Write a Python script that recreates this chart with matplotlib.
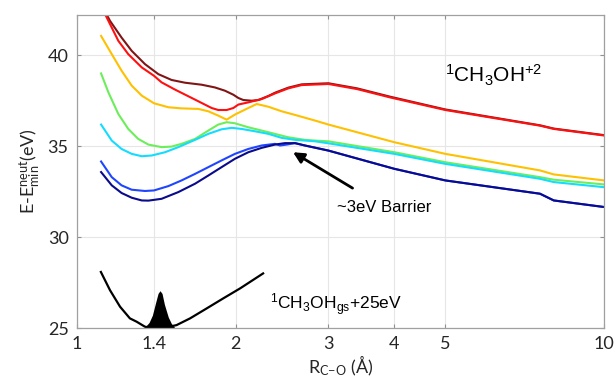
import numpy as np
import matplotlib
matplotlib.use("Agg")
import matplotlib.pyplot as plt

plt.rcParams['font.family'] = ['Lato', 'DejaVu Sans']
plt.rcParams['mathtext.default'] = 'regular'

# dication curves (R in Angstrom, E in eV)
r_darkred = [1.13, 1.155, 1.215, 1.27, 1.346, 1.427, 1.512, 1.603, 1.724, 1.827, 1.909, 1.98,
             2.024, 2.068, 2.145, 2.209, 2.307, 2.375, 2.518, 2.669, 3.0, 3.4, 3.93, 5.0, 7.56, 8.03, 10.0]
e_darkred = [42.4, 41.88, 40.96, 40.23, 39.50, 38.95, 38.63, 38.48, 38.37, 38.22, 38.04, 37.82,
             37.64, 37.53, 37.49, 37.53, 37.75, 37.93, 38.21, 38.39, 38.45, 38.17, 37.71, 37.01, 36.14, 35.96, 35.60]

r_red = [1.128, 1.147, 1.198, 1.251, 1.327, 1.40, 1.447, 1.535, 1.675, 1.801, 1.854, 1.923, 1.98,
         2.024, 2.114, 2.241, 2.375, 2.518, 2.669, 3.0, 3.4, 3.93, 5.0, 7.56, 8.03, 10.0]
e_red = [42.3, 41.88, 40.78, 40.05, 39.32, 38.86, 38.50, 38.10, 37.55, 37.09, 36.98, 36.98, 37.09,
         37.28, 37.40, 37.58, 37.89, 38.17, 38.35, 38.41, 38.13, 37.67, 36.98, 36.12, 35.94, 35.58]

r_yellow = [1.111, 1.164, 1.215, 1.27, 1.327, 1.40, 1.491, 1.579, 1.699, 1.775, 1.854, 1.923,
            1.994, 2.114, 2.193, 2.307, 2.445, 2.592, 2.829, 3.0, 4.0, 5.0, 7.56, 8.03, 10.0]
e_yellow = [41.05, 40.05, 39.14, 38.32, 37.77, 37.35, 37.13, 37.07, 37.04, 36.91, 36.67, 36.45,
            36.73, 37.09, 37.31, 37.16, 36.91, 36.71, 36.40, 36.18, 35.21, 34.57, 33.66, 33.44, 33.11]

r_green = [1.111, 1.147, 1.198, 1.251, 1.307, 1.366, 1.447, 1.512, 1.579, 1.675, 1.775, 1.854,
           1.923, 1.994, 2.114, 2.307, 2.518, 2.707, 2.829, 3.0, 4.0, 5.0, 7.56, 8.03, 10.0]
e_green = [38.99, 37.95, 36.76, 35.94, 35.39, 35.08, 34.94, 34.97, 35.12, 35.39, 35.85, 36.18,
           36.31, 36.25, 36.03, 35.76, 35.48, 35.34, 35.30, 35.26, 34.66, 34.11, 33.29, 33.15, 32.89]

r_cyan = [1.111, 1.164, 1.215, 1.27, 1.327, 1.386, 1.469, 1.557, 1.675, 1.775, 1.881, 1.966,
          2.053, 2.177, 2.307, 2.445, 2.592, 2.829, 3.0, 4.0, 5.0, 7.56, 8.03, 10.0]
e_cyan = [36.18, 35.30, 34.84, 34.57, 34.44, 34.48, 34.66, 34.94, 35.34, 35.67, 35.92, 36.00,
          35.94, 35.81, 35.67, 35.45, 35.34, 35.26, 35.15, 34.57, 34.02, 33.20, 33.02, 32.74]

r_blue = [1.111, 1.164, 1.215, 1.27, 1.346, 1.40, 1.491, 1.579, 1.675, 1.775, 1.881, 1.994,
          2.114, 2.241, 2.375, 2.428, 2.50, 2.592, 2.707, 3.0, 4.0, 5.0, 7.56, 8.03, 10.0]
e_blue = [34.15, 33.29, 32.84, 32.60, 32.53, 32.56, 32.80, 33.11, 33.47, 33.84, 34.21, 34.57,
          34.84, 35.03, 35.12, 35.03, 35.08, 35.16, 35.03, 34.75, 33.75, 33.11, 32.38, 32.01, 31.65]

r_navy = [1.111, 1.164, 1.215, 1.27, 1.327, 1.366, 1.447, 1.557, 1.675, 1.775, 1.881, 1.994,
          2.114, 2.241, 2.375, 2.481, 2.592, 2.707, 3.0, 4.0, 5.0, 7.56, 8.03, 10.0]
e_navy = [33.57, 32.84, 32.42, 32.16, 32.01, 32.00, 32.10, 32.47, 32.93, 33.38, 33.84, 34.30,
          34.66, 34.90, 35.08, 35.16, 35.16, 35.03, 34.75, 33.75, 33.11, 32.38, 32.01, 31.65]

# neutral ground state (+25 eV) and wave packet
r_gs = [1.11, 1.155, 1.207, 1.26, 1.297, 1.346, 1.396, 1.479, 1.545, 1.639, 1.763, 1.895, 2.04, 2.255]
e_gs = [28.08, 27.08, 26.17, 25.53, 25.35, 25.07, 25.0, 25.04, 25.16, 25.53, 26.08, 26.63, 27.18, 28.0]
r_wp = [1.34, 1.37, 1.39, 1.41, 1.425, 1.437, 1.45, 1.465, 1.49, 1.51, 1.53]
e_wp = [25.0, 25.3, 25.7, 26.4, 26.9, 27.05, 26.9, 26.3, 25.6, 25.25, 25.05]

xticks = [1, 1.4, 2, 3, 4, 5, 10]
yticks = [25, 30, 35, 40]

fig = plt.figure(figsize=(6.16, 3.88), dpi=100)
ax = fig.add_axes([0.125, 0.1546, 0.8555, 0.8067])

curves = [
    (r_darkred, e_darkred, '#801515'),
    (r_red, e_red, '#ff1010'),
    (r_yellow, e_yellow, '#ffc000'),
    (r_green, e_green, '#6cee5a'),
    (r_cyan, e_cyan, '#14dcff'),
    (r_blue, e_blue, '#1f45ff'),
    (r_navy, e_navy, '#0a0a8c'),
]
for r, e, c in curves:
    ax.plot(r, e, color=c, lw=1.5)

ax.plot(r_gs, e_gs, color='black', lw=1.6)
ax.fill_between(r_wp, 25, e_wp, color='black', lw=0)

ax.set_xscale('log')
ax.set_xlim(1, 10)
ax.set_ylim(25, 42.2)
ax.set_xticks(xticks)
ax.set_xticklabels([str(t) for t in xticks])
ax.minorticks_off()
ax.set_yticks(yticks)

ax.grid(True, color='#e6e6e6', lw=0.8)
ax.set_axisbelow(True)
for s in ax.spines.values():
    s.set_color('#a0a0a0')
    s.set_linewidth(0.9)
ax.tick_params(direction='in', top=True, right=True, length=3, width=0.8,
               color='#909090', labelsize=13, labelcolor='#262626', pad=6)

ax.set_xlabel(r'R$_{C{-}O}$ (Å)', fontsize=13, color='#262626', labelpad=1)
ax.set_ylabel(r'E-E$^{neut}_{min}$(eV)', fontsize=13, color='#262626', labelpad=4)

ax.annotate('~3eV Barrier', xy=(2.57, 34.66), xytext=(3.11, 31.65),
            fontsize=12, family='Liberation Sans', va='center', ha='left',
            arrowprops=dict(arrowstyle='-|>', color='black', lw=2,
                            mutation_scale=16, shrinkA=12, shrinkB=0))
ax.text(5.0, 38.5, r'$^1$CH$_3$OH$^{+2}$', fontsize=15, family='Liberation Sans',
        ha='left', va='baseline')
ax.text(2.32, 26.02, r'$^1$CH$_3$OH$_{gs}$+25eV', fontsize=12.5, family='Liberation Sans',
        ha='left', va='baseline')

fig.savefig('out.png', dpi=100)
